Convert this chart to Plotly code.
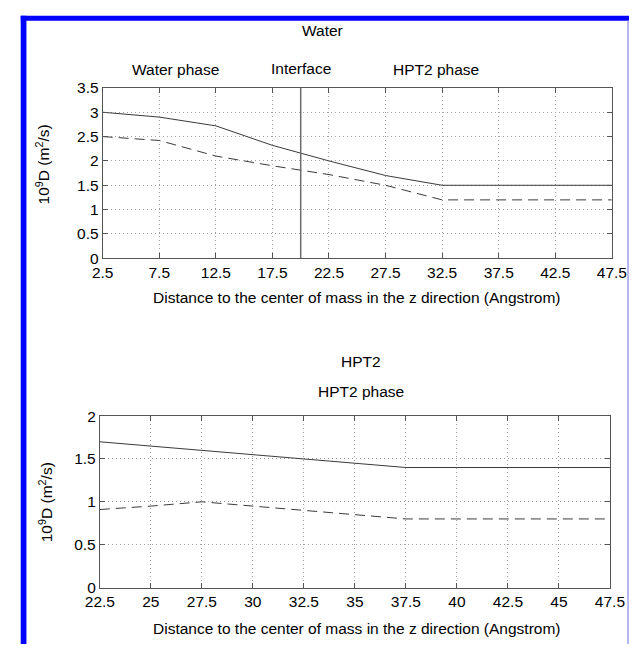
import plotly.graph_objects as go

W, H = 644, 652

# ---- data (top panel: Water) ----
water_x = [2.5, 7.5, 12.5, 17.5, 22.5, 27.5, 32.5, 37.5, 42.5, 47.5]
water_solid = [3.0, 2.9, 2.72, 2.32, 2.0, 1.7, 1.5, 1.5, 1.5, 1.5]
water_dashed = [2.5, 2.42, 2.1, 1.9, 1.72, 1.5, 1.2, 1.2, 1.2, 1.2]
water_xticks = [2.5, 7.5, 12.5, 17.5, 22.5, 27.5, 32.5, 37.5, 42.5, 47.5]
water_yticks = [0, 0.5, 1, 1.5, 2, 2.5, 3, 3.5]
interface_x = 20

# ---- data (bottom panel: HPT2) ----
hpt_x = [22.5, 25, 27.5, 30, 32.5, 35, 37.5, 40, 42.5, 45, 47.5]
hpt_solid = [1.7, 1.65, 1.6, 1.55, 1.5, 1.45, 1.4, 1.4, 1.4, 1.4, 1.4]
hpt_dashed = [0.91, 0.95, 1.0, 0.95, 0.9, 0.85, 0.8, 0.8, 0.8, 0.8, 0.8]
hpt_xticks = [22.5, 25, 27.5, 30, 32.5, 35, 37.5, 40, 42.5, 45, 47.5]
hpt_yticks = [0, 0.5, 1, 1.5, 2]

FONT = "Liberation Sans, Arial, sans-serif"
FS = 15.5

def px_x(x):
    return x / W

def px_y(y):
    return 1 - y / H

fig = go.Figure()

line_col = "#3a3a3a"
fig.add_trace(go.Scatter(x=water_x, y=water_solid, mode="lines",
                         line=dict(color=line_col, width=1), xaxis="x", yaxis="y"))
fig.add_trace(go.Scatter(x=water_x, y=water_dashed, mode="lines",
                         line=dict(color=line_col, width=1, dash="10px,6px"), xaxis="x", yaxis="y"))
fig.add_trace(go.Scatter(x=[interface_x, interface_x], y=[water_yticks[0], water_yticks[-1]], mode="lines",
                         line=dict(color="#6a6a6a", width=1.5), xaxis="x", yaxis="y"))
fig.add_trace(go.Scatter(x=hpt_x, y=hpt_solid, mode="lines",
                         line=dict(color=line_col, width=1), xaxis="x2", yaxis="y2"))
fig.add_trace(go.Scatter(x=hpt_x, y=hpt_dashed, mode="lines",
                         line=dict(color=line_col, width=1, dash="10px,6px"), xaxis="x2", yaxis="y2"))

axis_common = dict(
    showgrid=True, gridcolor="#a0a0a0", griddash="1px,3px", gridwidth=1,
    zeroline=False, showline=True, linecolor="#555555", linewidth=1,
    mirror="ticks", ticks="inside", ticklen=5, tickcolor="#555555",
    tickfont=dict(family=FONT, size=FS, color="black"),
)

fig.update_layout(
    width=W, height=H,
    margin=dict(l=0, r=0, t=0, b=0),
    paper_bgcolor="white", plot_bgcolor="white",
    showlegend=False,
    xaxis=dict(domain=[px_x(92), px_x(626)], range=[2.5, 47.5],
               tickvals=water_xticks, ticktext=[f"{v:g}" for v in water_xticks],
               anchor="y", **axis_common),
    yaxis=dict(domain=[px_y(256), px_y(81)], range=[0, 3.5],
               tickvals=water_yticks, ticktext=[f"{v:g}" for v in water_yticks],
               anchor="x", **axis_common),
    xaxis2=dict(domain=[px_x(89), px_x(624)], range=[22.5, 47.5],
                tickvals=hpt_xticks, ticktext=[f"{v:g}" for v in hpt_xticks],
                anchor="y2", **axis_common),
    yaxis2=dict(domain=[px_y(594), px_y(418)], range=[0, 2],
                tickvals=hpt_yticks, ticktext=[f"{v:g}" for v in hpt_yticks],
                anchor="x2", **axis_common),
)

def ann(text, x, y, angle=0):
    fig.add_annotation(text=text, x=px_x(x), y=px_y(y), xref="paper", yref="paper",
                       showarrow=False, xanchor="center", yanchor="middle", textangle=angle,
                       font=dict(family=FONT, size=FS, color="black"))

ann("Water", 322, 22)
ann("Water phase", 168, 62)
ann("Interface", 300, 61)
ann("HPT2 phase", 442, 62)
ann("Distance to the center of mass in the z direction (Angstrom)", 358, 296)
ann("10<sup>9</sup>D (m<sup>2</sup>/s)", 29, 160, -90)

ann("HPT2", 363, 362)
ann("HPT2 phase", 363, 393)
ann("Distance to the center of mass in the z direction (Angstrom)", 358, 636)
ann("10<sup>9</sup>D (m<sup>2</sup>/s)", 32, 507, -90)

# frame border (blue)
fig.add_shape(type="rect", xref="paper", yref="paper",
              x0=px_x(6), x1=px_x(12), y0=px_y(H), y1=px_y(7),
              fillcolor="#0000ff", line=dict(width=0), layer="above")
fig.add_shape(type="rect", xref="paper", yref="paper",
              x0=px_x(6), x1=px_x(644), y0=px_y(12), y1=px_y(7),
              fillcolor="#0000ff", line=dict(width=0), layer="above")
fig.add_shape(type="rect", xref="paper", yref="paper",
              x0=px_x(642), x1=px_x(644), y0=px_y(H), y1=px_y(12),
              fillcolor="#b4b4f0", line=dict(width=0), layer="above")

fig.write_html("out.html")
